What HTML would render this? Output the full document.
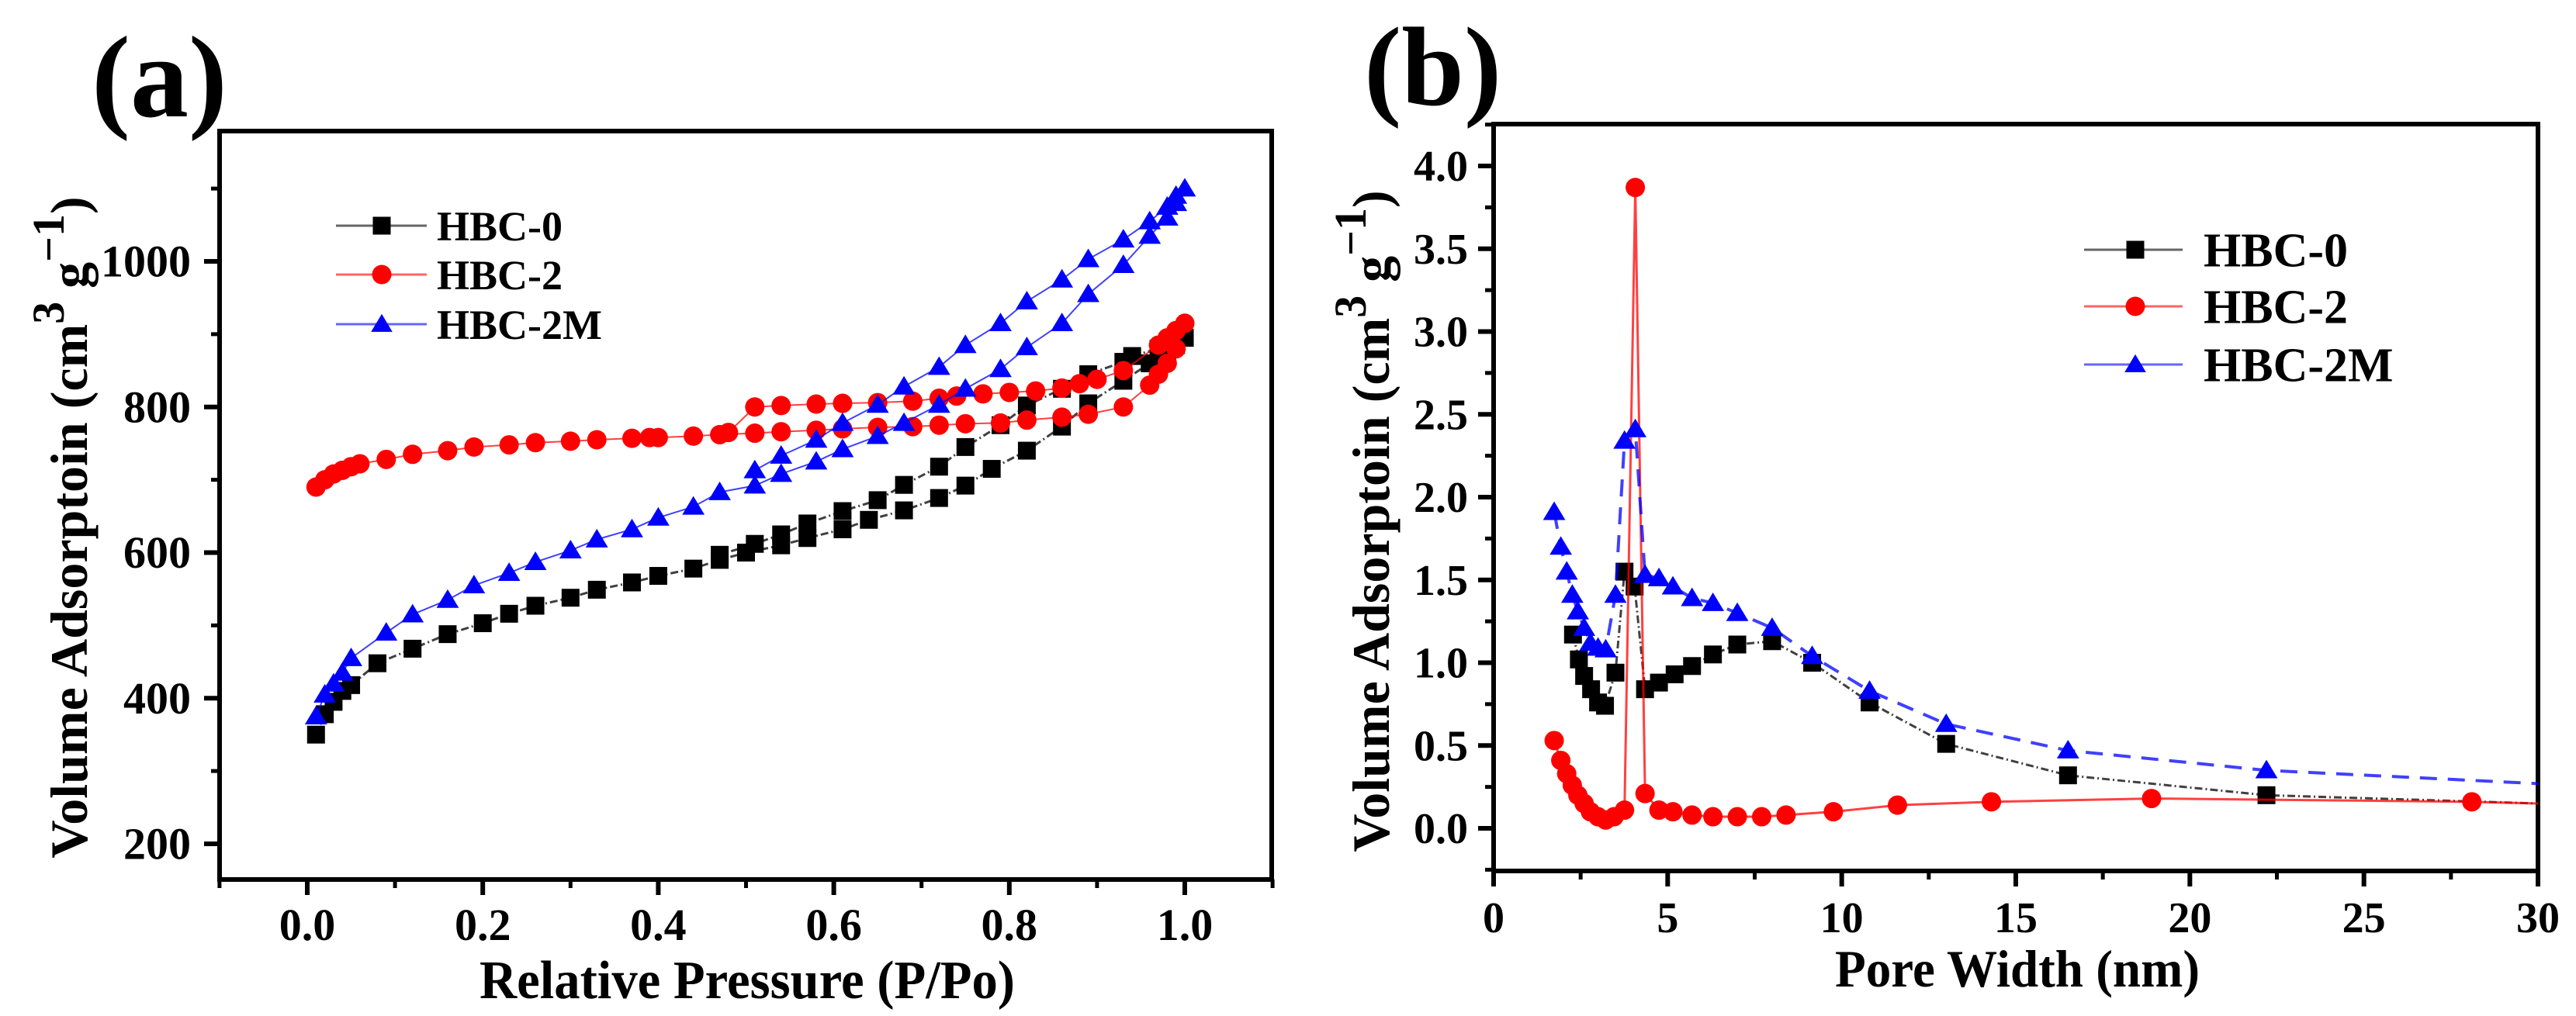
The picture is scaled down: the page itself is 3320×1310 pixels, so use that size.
<!DOCTYPE html>
<html><head><meta charset="utf-8">
<style>
html,body{margin:0;padding:0;background:#fff;}
svg{display:block;font-family:"Liberation Serif",serif;font-weight:bold;}
</style></head>
<body>
<svg id="chart" width="3320" height="1310" viewBox="0 0 3320 1310" xmlns="http://www.w3.org/2000/svg">
<g id="pa"></g>
<g id="pb"></g>
</svg>
<script>
// ---------- Panel (a) data: isotherms ----------
const a_x_ticks = [0.0, 0.2, 0.4, 0.6, 0.8, 1.0];
const a_x_tick_labels = ["0.0", "0.2", "0.4", "0.6", "0.8", "1.0"];
const a_y_ticks = [200, 400, 600, 800, 1000];
const a_y_tick_labels = ["200", "400", "600", "800", "1000"];
const a_hbc0_x = [0.01,0.02,0.03,0.04,0.05,0.08,0.12,0.16,0.2,0.23,0.26,0.3,0.33,0.37,0.4,0.44,0.47,0.5,0.54,0.57,0.61,0.64,0.68,0.72,0.75,0.78,0.82,0.86,0.89,0.93,0.96,0.98,0.99,1.0,0.99,0.97,0.94,0.93,0.89,0.86,0.82,0.79,0.75,0.72,0.68,0.65,0.61,0.57,0.54,0.51,0.47];
const a_hbc0_y = [350,378,395,410,418,448,468,488,503,516,527,538,549,559,568,578,590,600,610,620,632,645,658,675,692,715,740,773,805,836,860,875,885,895,890,880,870,862,845,825,802,775,745,718,693,672,657,640,625,612,597];
const a_hbc2_x = [0.01,0.02,0.03,0.04,0.05,0.06,0.09,0.12,0.16,0.19,0.23,0.26,0.3,0.33,0.37,0.39,0.4,0.44,0.47,0.51,0.54,0.58,0.61,0.65,0.69,0.72,0.75,0.79,0.82,0.86,0.89,0.93,0.96,0.97,0.98,0.99,1.0,0.99,0.98,0.97,0.93,0.9,0.88,0.86,0.83,0.8,0.77,0.74,0.72,0.69,0.65,0.61,0.58,0.54,0.51,0.48];
const a_hbc2_y = [690,700,708,713,718,722,728,735,740,745,748,751,753,755,757,758,758,760,762,764,766,768,770,772,773,775,777,778,782,786,790,800,830,845,860,880,915,905,895,885,850,838,832,826,822,820,818,815,812,808,806,805,804,802,800,765];
const a_hbc2m_x = [0.01,0.02,0.03,0.04,0.05,0.09,0.12,0.16,0.19,0.23,0.26,0.3,0.33,0.37,0.4,0.44,0.47,0.51,0.54,0.58,0.61,0.65,0.68,0.72,0.75,0.79,0.82,0.86,0.89,0.93,0.96,0.98,0.99,1.0,0.99,0.98,0.96,0.93,0.89,0.86,0.82,0.79,0.75,0.72,0.68,0.65,0.61,0.58,0.54,0.51];
const a_hbc2m_y = [375,405,420,435,455,490,515,535,555,572,587,603,618,632,648,663,683,692,708,725,742,760,778,803,825,852,882,915,955,995,1035,1060,1080,1100,1090,1075,1055,1030,1003,975,945,915,885,855,828,803,778,755,733,713];

// ---------- Panel (b) data: pore size distribution ----------
const b_x_ticks = [0, 5, 10, 15, 20, 25, 30];
const b_x_tick_labels = ["0", "5", "10", "15", "20", "25", "30"];
const b_y_ticks = [0, 0.5, 1.0, 1.5, 2.0, 2.5, 3.0, 3.5, 4.0];
const b_y_tick_labels = ["0.0", "0.5", "1.0", "1.5", "2.0", "2.5", "3.0", "3.5", "4.0"];
const b_hbc0_x = [2.28,2.45,2.6,2.8,3.0,3.2,3.5,3.76,4.05,4.35,4.75,5.2,5.7,6.3,7.0,8.0,9.15,10.8,13.0,16.5,22.2];
const b_hbc0_y = [1.17,1.02,0.92,0.84,0.76,0.74,0.94,1.55,1.46,0.84,0.88,0.93,0.98,1.05,1.11,1.13,1.0,0.76,0.51,0.32,0.2];
const b_hbc0_end = [30, 0.15];
const b_hbc2_x = [1.74,1.93,2.1,2.26,2.42,2.6,2.78,3.0,3.22,3.46,3.76,4.07,4.35,4.75,5.15,5.7,6.3,7.0,7.7,8.4,9.76,11.6,14.3,18.9,28.1];
const b_hbc2_y = [0.53,0.41,0.33,0.26,0.2,0.15,0.1,0.07,0.05,0.07,0.11,3.87,0.21,0.11,0.1,0.08,0.07,0.07,0.07,0.08,0.1,0.14,0.16,0.18,0.16];
const b_hbc2_end = [30, 0.15];
const b_hbc2m_x = [1.74,1.93,2.1,2.26,2.42,2.6,2.78,3.0,3.22,3.5,3.76,4.07,4.35,4.75,5.15,5.7,6.3,7.0,8.0,9.15,10.8,13.0,16.5,22.2];
const b_hbc2m_y = [1.91,1.7,1.55,1.41,1.31,1.21,1.12,1.09,1.08,1.41,2.34,2.41,1.53,1.51,1.46,1.39,1.36,1.3,1.21,1.04,0.83,0.63,0.47,0.35];
const b_hbc2m_end = [30, 0.27];

const NS = "http://www.w3.org/2000/svg";
function mk(parent, tag, attrs, name, text) {
  const e = document.createElementNS(NS, tag);
  for (const k in attrs) e.setAttribute(k, attrs[k]);
  
  
  if (text !== undefined) e.textContent = text;
  parent.appendChild(e);
  return e;
}
function scale(d0, d1, p0, p1) { return v => p0 + (v - d0) * (p1 - p0) / (d1 - d0); }

function marker(g, type, cx, cy, color, s) {
  let m;
  if (type === 'square') {
    m = mk(g, 'rect', {x: cx - s/2, y: cy - s/2, width: s, height: s, fill: color}, 'marker-square');
  } else if (type === 'circle') {
    m = mk(g, 'circle', {cx: cx, cy: cy, r: s/2 + 1, fill: color}, 'marker-circle');
  } else {
    const h = s * 0.95, w = s * 1.2;
    m = mk(g, 'polygon', {points: `${cx},${cy - h*0.6} ${cx - w/2},${cy + h*0.45} ${cx + w/2},${cy + h*0.45}`, fill: color}, 'marker-triangle');
  }
  return m;
}

function series(g, name, xs, ys, sx, sy, color, type, dash, lw, s, end) {
  const sg = mk(g, 'g', {}, name);
  let pts = xs.map((x, i) => sx(x) + ',' + sy(ys[i]));
  if (end) pts.push(sx(end[0]) + ',' + sy(end[1]));
  mk(sg, 'polyline', {points: pts.join(' '), fill: 'none', stroke: color, 'stroke-width': lw, 'stroke-dasharray': dash, opacity: 0.75}, name + '-line');
  xs.forEach((x, i) => marker(sg, type, sx(x), sy(ys[i]), color, s));
}

function axes(g, box, sx, sy, xt, xl, xminor, yt, yl, yminor, tfs, xlabY, ylabX) {
  const [L, T, R, B] = box;
  mk(g, 'rect', {x: L, y: T, width: R - L, height: B - T, fill: 'none', stroke: '#000', 'stroke-width': 6}, 'plot-frame');
  xt.forEach((v, i) => {
    const x = sx(v);
    mk(g, 'line', {x1: x, y1: B, x2: x, y2: B + 20, stroke: '#000', 'stroke-width': 6}, 'x-tick');
    mk(g, 'text', {x: x, y: xlabY, 'font-size': tfs, 'text-anchor': 'middle'}, 'x-tick-label', xl[i]);
  });
  xminor.forEach(v => mk(g, 'line', {x1: sx(v), y1: B, x2: sx(v), y2: B + 11, stroke: '#000', 'stroke-width': 5}, 'x-minor-tick'));
  yt.forEach((v, i) => {
    const y = sy(v);
    mk(g, 'line', {x1: L, y1: y, x2: L - 20, y2: y, stroke: '#000', 'stroke-width': 6}, 'y-tick');
    mk(g, 'text', {x: ylabX, y: y + tfs * 0.34, 'font-size': tfs, 'text-anchor': 'end'}, 'y-tick-label', yl[i]);
  });
  yminor.forEach(v => mk(g, 'line', {x1: L, y1: sy(v), x2: L - 11, y2: sy(v), stroke: '#000', 'stroke-width': 5}, 'y-minor-tick'));
}

function ytitle(g, cx, cy, len, fs) {
  const t = mk(g, 'text', {transform: `translate(${cx},${cy}) rotate(-90)`, 'font-size': fs, 'text-anchor': 'middle'}, 'y-axis-title');
  t.innerHTML = 'Volume Adsorptoin (cm<tspan dy="-30" font-size="' + (fs*0.85) + '">3</tspan><tspan dy="30"> g</tspan><tspan dy="-30" font-size="' + (fs*0.85) + '">−1</tspan><tspan dy="30">)</tspan>';
}

function legend(g, x0, x1, xm, xt, rows, fs, s) {
  const items = [['HBC-0', '#000', 'square'], ['HBC-2', 'red', 'circle'], ['HBC-2M', 'blue', 'triangle']];
  items.forEach((it, i) => {
    const lg = mk(g, 'g', {}, 'legend-entry-' + it[0].toLowerCase());
    mk(lg, 'line', {x1: x0, y1: rows[i], x2: x1, y2: rows[i], stroke: it[1], 'stroke-width': 3, opacity: 0.6}, 'legend-line');
    marker(lg, it[2], xm, rows[i], it[1], s);
    mk(lg, 'text', {x: xt, y: rows[i] + fs * 0.35, 'font-size': fs}, 'legend-label', it[0]);
  });
}

// ---------- Panel (a) ----------
(function () {
  const g = document.getElementById('pa');
  const box = [283, 169, 1639, 1134];
  const sx = scale(0, 1, 396, 1527);
  const sy = scale(200, 1000, 1088, 337);
  mk(g, 'text', {x: 118, y: 150, 'font-size': 150}, 'panel-label-a', '(a)');
  axes(g, box, sx, sy, a_x_ticks, a_x_tick_labels, [-0.1, 0.1, 0.3, 0.5, 0.7, 0.9, 1.1], a_y_ticks, a_y_tick_labels, [300, 500, 700, 900, 1100], 58, 1212, 246);
  series(g, 'series-hbc-0', a_hbc0_x, a_hbc0_y, sx, sy, '#000', 'square', '10 4 2 4', 3, 23);
  series(g, 'series-hbc-2', a_hbc2_x, a_hbc2_y, sx, sy, 'red', 'circle', '0', 2, 23);
  series(g, 'series-hbc-2m', a_hbc2m_x, a_hbc2m_y, sx, sy, 'blue', 'triangle', '0', 2, 24);
  legend(g, 433, 550, 492, 563, [291, 354, 418], 54, 23);
  mk(g, 'text', {x: 963, y: 1287, 'font-size': 70, 'text-anchor': 'middle', textLength: 690, lengthAdjust: 'spacingAndGlyphs'}, 'x-axis-title', 'Relative Pressure (P/Po)');
  ytitle(g, 112, 680, 818, 68);
})();

// ---------- Panel (b) ----------
(function () {
  const g = document.getElementById('pb');
  const box = [1925, 160, 3271, 1123];
  const sx = scale(0, 30, 1925, 3271);
  const sy = scale(0, 4, 1068, 214);
  mk(g, 'text', {x: 1758, y: 135, 'font-size': 145}, 'panel-label-b', '(b)');
  axes(g, box, sx, sy, b_x_ticks, b_x_tick_labels, [2.5, 7.5, 12.5, 17.5, 22.5, 27.5], b_y_ticks, b_y_tick_labels, [-0.25, 0.25, 0.75, 1.25, 1.75, 2.25, 2.75, 3.25, 3.75, 4.25], 56, 1202, 1892);
  series(g, 'series-hbc-0', b_hbc0_x, b_hbc0_y, sx, sy, '#000', 'square', '10 4 2 4', 3, 23, b_hbc0_end);
  series(g, 'series-hbc-2', b_hbc2_x, b_hbc2_y, sx, sy, 'red', 'circle', '0', 3, 23, b_hbc2_end);
  series(g, 'series-hbc-2m', b_hbc2m_x, b_hbc2m_y, sx, sy, 'blue', 'triangle', '22 14', 4, 24, b_hbc2m_end);
  legend(g, 2686, 2813, 2752, 2840, [322, 395, 470], 62, 23);
  mk(g, 'text', {x: 2600, y: 1272, 'font-size': 68, 'text-anchor': 'middle', textLength: 470, lengthAdjust: 'spacingAndGlyphs'}, 'x-axis-title', 'Pore Width (nm)');
  ytitle(g, 1790, 672, 830, 68);
})();
</script>
</body></html>
